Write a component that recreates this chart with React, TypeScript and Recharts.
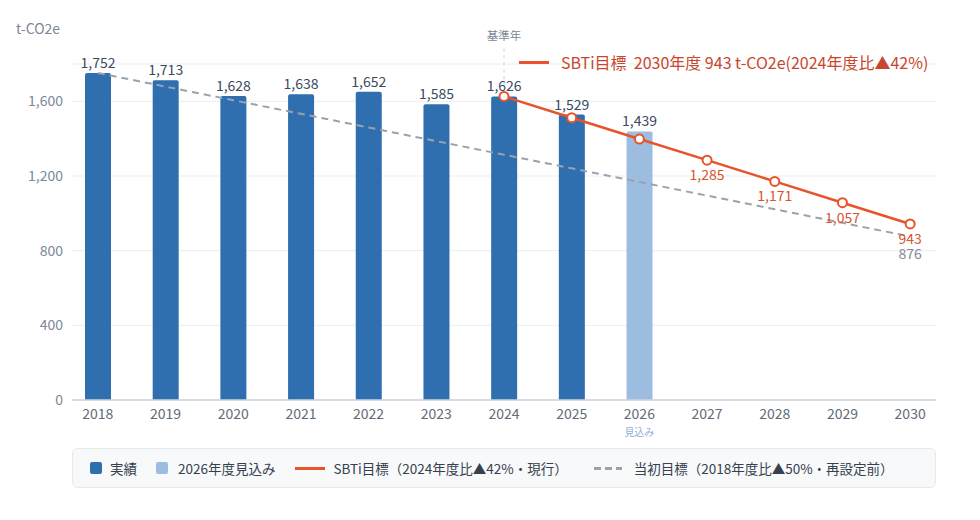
import React from 'react'
import {
  ComposedChart,
  Bar,
  Line,
  XAxis,
  YAxis,
  CartesianGrid,
  LabelList,
  ReferenceLine,
} from 'recharts'

const FONT = '"Noto Sans CJK JP", "Noto Sans", sans-serif'

const years = ['2018', '2019', '2020', '2021', '2022', '2023', '2024', '2025', '2026', '2027', '2028', '2029', '2030']
const actual = [1752, 1713, 1628, 1638, 1652, 1585, 1626, 1529, null, null, null, null, null]
const forecast = [null, null, null, null, null, null, null, null, 1439, null, null, null, null]
const sbtiTarget = [null, null, null, null, null, null, 1626, 1512, 1398, 1285, 1171, 1057, 943]
const initialTarget = [1752, 1679, 1606, 1533, 1460, 1387, 1314, 1241, 1168, 1095, 1022, 949, 876]
const yTicks = [0, 400, 800, 1200, 1600]
const forecastYears = ['2026']
const sbtiLabelYears = ['2027', '2028', '2029', '2030']
const initialLabelYears = ['2030']
const baseYear = '2024'

const rows = years.map((year, i) => ({
  year,
  actual: actual[i],
  forecast: forecast[i],
  sbti: sbtiTarget[i],
  initial: initialTarget[i],
}))

const BLUE = '#2f6fb0'
const LIGHT_BLUE = '#9dbde0'
const ORANGE = '#e8532b'
const GREY_DASH = '#9aa3ad'

const fmt = (v: any) => (v == null ? '' : Number(v).toLocaleString('en-US'))

function XTick(props: any) {
  const { x, y, payload } = props
  const isForecast = forecastYears.includes(payload.value)
  return (
    <g>
      <text x={x} y={y} dy={11} textAnchor="middle" fill="#5f6b78" fontSize={14} fontFamily={FONT}>
        {payload.value}
      </text>
      {isForecast && (
        <text x={x} y={y} dy={28} textAnchor="middle" fill="#8fb0d8" fontSize={10} fontFamily={FONT}>
          見込み
        </text>
      )}
    </g>
  )
}

// label under the point, only for listed years
const belowLabel = (labelYears: string[], color: string, dy: number) => (props: any) => {
  const { x, y, value, index } = props
  if (!labelYears.includes(rows[index]?.year) || value == null) return null
  return (
    <text x={x} y={y} dy={dy} textAnchor="middle" fill={color} fontSize={14} fontFamily={FONT}>
      {fmt(value)}
    </text>
  )
}

function LegendSwatch({ kind }: { kind: string }) {
  if (kind === 'bar') return <span style={{ width: 12, height: 12, background: BLUE, borderRadius: 2, display: 'inline-block' }} />
  if (kind === 'bar-light')
    return <span style={{ width: 12, height: 12, background: LIGHT_BLUE, borderRadius: 2, display: 'inline-block' }} />
  if (kind === 'line') return <span style={{ width: 30, height: 3, background: ORANGE, display: 'inline-block' }} />
  return (
    <span
      style={{
        width: 28,
        height: 3,
        display: 'inline-block',
        background: `repeating-linear-gradient(90deg, ${GREY_DASH} 0 7px, transparent 7px 11px)`,
      }}
    />
  )
}

const legendItems = [
  { kind: 'bar', label: '実績', gap: 8, after: 19 },
  { kind: 'bar-light', label: '2026年度見込み', gap: 10, after: 20 },
  { kind: 'line', label: 'SBTi目標（2024年度比▲42%・現行）', gap: 8, after: 26 },
  { kind: 'dash', label: '当初目標（2018年度比▲50%・再設定前）', gap: 12, after: 0 },
]

export default function App() {
  return (
    <div style={{ position: 'relative', width: 964, height: 500, fontFamily: FONT }}>
      <div style={{ position: 'absolute', left: 8, top: 10, fontSize: 14, color: '#7d8795' }}>t-CO2e</div>

      <ComposedChart
        width={964}
        height={440}
        data={rows}
        margin={{ top: 56, right: 36, bottom: 18, left: 8 }}
        style={{ fontFamily: FONT }}
      >
        <CartesianGrid vertical={false} stroke="#ebedf0" />
        <XAxis
          dataKey="year"
          interval={0}
          height={30}
          padding={{ left: -8, right: -8 }}
          axisLine={{ stroke: '#cfd5dc', strokeWidth: 1.5 }}
          tickLine={false}
          tick={<XTick />}
        />
        <YAxis
          width={56}
          domain={[0, 1800]}
          ticks={yTicks}
          axisLine={false}
          tickLine={false}
          tickSize={0}
          tickMargin={9}
          tickFormatter={fmt}
          tick={{ fill: '#7d8795', fontSize: 14, fontFamily: FONT }}
        />
        <ReferenceLine
          segment={[
            { x: baseYear, y: 1640 },
            { x: baseYear, y: 1900 },
          ]}
          ifOverflow="visible"
          stroke="#d3d6db"
          strokeDasharray="4 3"
          label={{ value: '基準年', position: 'top', fill: '#7d8795', fontSize: 11.5, fontFamily: FONT }}
        />
        <Bar dataKey="actual" stackId="a" barSize={26} fill={BLUE} radius={[2, 2, 0, 0]} isAnimationActive={false}>
          <LabelList dataKey="actual" position="top" offset={5} fill="#3a4a5f" fontSize={14} formatter={fmt} />
        </Bar>
        <Bar dataKey="forecast" stackId="a" barSize={26} fill={LIGHT_BLUE} radius={[2, 2, 0, 0]} isAnimationActive={false}>
          <LabelList dataKey="forecast" position="top" offset={5} fill="#3a4a5f" fontSize={14} formatter={fmt} />
        </Bar>
        <Line
          dataKey="initial"
          stroke={GREY_DASH}
          strokeWidth={2}
          strokeDasharray="7 5"
          dot={false}
          activeDot={false}
          isAnimationActive={false}
        >
          <LabelList dataKey="initial" content={belowLabel(initialLabelYears, '#7f8997', 23)} />
        </Line>
        <Line
          dataKey="sbti"
          stroke={ORANGE}
          strokeWidth={2.5}
          dot={{ r: 4.5, fill: '#fff', stroke: ORANGE, strokeWidth: 2 }}
          activeDot={false}
          isAnimationActive={false}
        >
          <LabelList dataKey="sbti" content={belowLabel(sbtiLabelYears, '#d9542b', 20)} />
        </Line>
      </ComposedChart>

      <div style={{ position: 'absolute', left: 511, top: 43, height: 22, display: 'flex', alignItems: 'center' }}>
        <span style={{ width: 30, height: 3, background: ORANGE, display: 'inline-block', marginRight: 12 }} />
        <span style={{ color: '#c8472c', fontSize: 16, fontWeight: 400, whiteSpace: 'nowrap' }}>
          SBTi目標&nbsp;&nbsp;2030年度 943 t-CO2e(2024年度比▲42%)
        </span>
      </div>

      <div
        style={{
          position: 'absolute',
          left: 64,
          top: 440,
          width: 864,
          height: 40,
          boxSizing: 'border-box',
          border: '1px solid #e6e9ee',
          borderRadius: 6,
          background: '#f8f9fb',
          display: 'flex',
          alignItems: 'center',
          paddingLeft: 17,
          fontSize: 13.5,
          color: '#37414d',
        }}
      >
        {legendItems.map((it) => (
          <div key={it.label} style={{ display: 'flex', alignItems: 'center', marginRight: it.after }}>
            <LegendSwatch kind={it.kind} />
            <span style={{ marginLeft: it.gap, whiteSpace: 'nowrap' }}>{it.label}</span>
          </div>
        ))}
      </div>
    </div>
  )
}
